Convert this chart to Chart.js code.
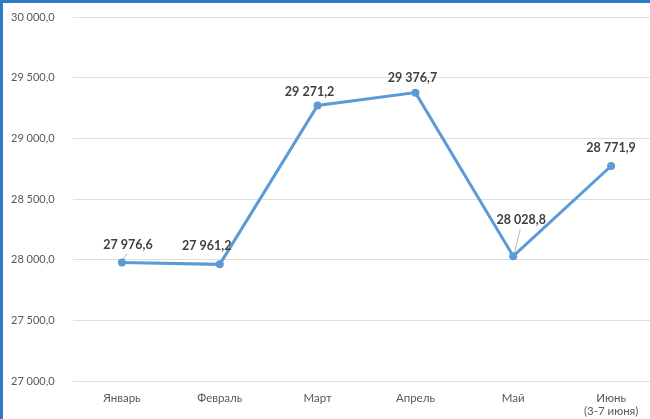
<!DOCTYPE html>
<html>
<head>
<meta charset="utf-8">
<script src="https://cdn.jsdelivr.net/npm/chart.js@4/dist/chart.umd.min.js"></script>
<style>
  html, body { margin: 0; padding: 0; background: #fff; overflow: hidden; width: 650px; height: 419px; }
  #wrap { position: absolute; left: 0; top: 0; width: 664px; height: 419px; }
  #bl { position: absolute; left: 0; top: 0; width: 3px; height: 419px; background: #2F7BC8; }
  #bt { position: absolute; left: 0; top: 0; width: 650px; height: 3px; background: #2F7BC8; }
</style>
</head>
<body>
<div id="wrap"><canvas id="c" width="664" height="419"></canvas></div>
<div id="bl"></div><div id="bt"></div>
<script>
// ---- data ----
const categories = ['Январь', 'Февраль', 'Март', 'Апрель', 'Май', ['Июнь', '(3-7 июня)']];
const values = [27976.6, 27961.2, 29271.2, 29376.7, 28028.8, 28771.9];
const yTicks = [27000, 27500, 28000, 28500, 29000, 29500, 30000];

// ---- label layout (offsets from each point, px) ----
const labelOffsets = [[6, -18], [-13, -18], [-8, -13], [-3, -15], [8, -36], [0, -18]];
const leaderLines = [true, false, false, false, true, false];

function fmt(v) {
  const s = v.toFixed(1).split('.');
  return s[0].replace(/\B(?=(\d{3})+(?!\d))/g, ' ') + ',' + s[1];
}

const labelPlugin = {
  id: 'pointLabels',
  afterDatasetsDraw(chart) {
    const ctx = chart.ctx;
    const meta = chart.getDatasetMeta(0);
    ctx.save();
    ctx.font = 'bold 12.5px Lato, "Open Sans", sans-serif';
    ctx.fillStyle = '#404040';
    ctx.textAlign = 'center';
    ctx.textBaseline = 'middle';
    meta.data.forEach((pt, i) => {
      const [dx, dy] = labelOffsets[i];
      const lx = pt.x + dx, ly = pt.y + dy;
      if (leaderLines[i]) {
        ctx.strokeStyle = '#A6A6A6';
        ctx.lineWidth = 0.8;
        ctx.beginPath();
        ctx.moveTo(lx - 1, ly + 9);
        ctx.lineTo(pt.x + 1, pt.y - 3);
        ctx.stroke();
      }
      ctx.fillText(fmt(values[i]), lx, ly);
    });
    ctx.restore();
  }
};

new Chart(document.getElementById('c'), {
  type: 'line',
  data: {
    labels: categories,
    datasets: [{
      data: values,
      borderColor: '#5B9BD5',
      backgroundColor: '#5B9BD5',
      borderWidth: 3,
      pointRadius: 4,
      pointBorderWidth: 0,
      pointBackgroundColor: '#5B9BD5',
      tension: 0,
      clip: false
    }]
  },
  options: {
    responsive: false,
    animation: false,
    devicePixelRatio: 1,
    layout: { padding: { left: 11, right: 0, top: 17, bottom: 0 } },
    plugins: { legend: { display: false }, tooltip: { enabled: false } },
    scales: {
      x: {
        offset: true,
        grid: { display: false, drawTicks: false },
        border: { display: false },
        ticks: {
          color: '#595959',
          font: { family: 'Lato, "Open Sans", sans-serif', size: 11.5 },
          padding: 10,
          maxRotation: 0,
          autoSkip: false
        },
        afterFit(s) { s.height = 38; }
      },
      y: {
        min: 27000,
        max: 30000,
        afterBuildTicks(s) { s.ticks = yTicks.map(v => ({ value: v })); },
        grid: { color: '#DEDEDE', lineWidth: 1, drawTicks: false },
        border: { display: false },
        ticks: {
          color: '#595959',
          font: { family: 'Lato, "Open Sans", sans-serif', size: 11 },
          crossAlign: 'far',
          padding: 0,
          callback: v => fmt(v)
        },
        afterFit(s) { s.width = 62; }
      }
    }
  },
  plugins: [labelPlugin]
});
</script>
</body>
</html>
